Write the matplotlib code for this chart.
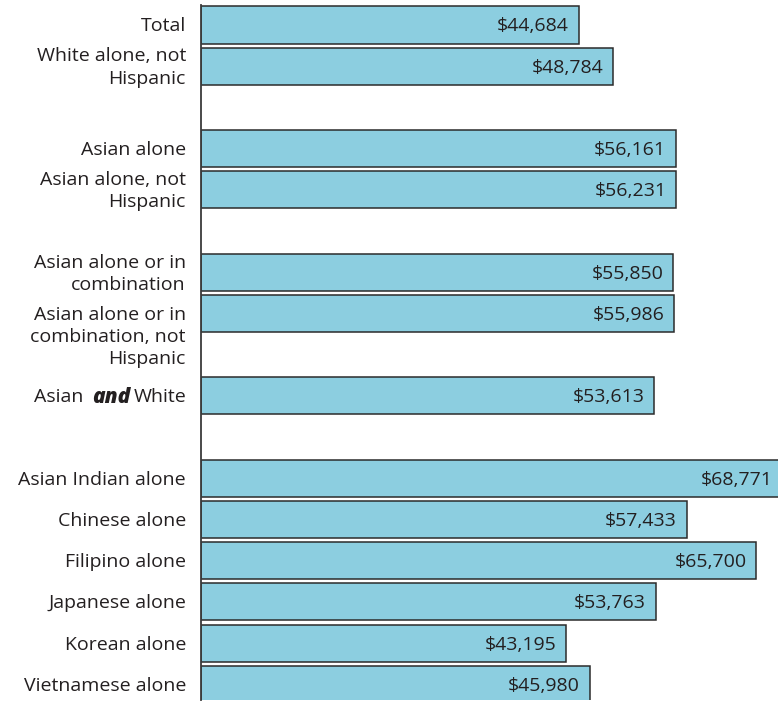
import matplotlib.pyplot as plt

plt.rcParams['font.family'] = ['Open Sans', 'DejaVu Sans']

labels = ["Total", "White alone, not\nHispanic",
          "Asian alone", "Asian alone, not\nHispanic",
          "Asian alone or in\ncombination", "Asian alone or in\ncombination, not\nHispanic",
          "Asian and White",
          "Asian Indian alone", "Chinese alone", "Filipino alone",
          "Japanese alone", "Korean alone", "Vietnamese alone"]
values = [44684, 48784, 56161, 56231, 55850, 55986, 53613,
          68771, 57433, 65700, 53763, 43195, 45980]
slots = [0, 1, 3, 4, 6, 7, 9, 11, 12, 13, 14, 15, 16]

TXT = "#231f20"
FS = 14
DY = -1
W, H = 778, 702
fig = plt.figure(figsize=(W / 100, H / 100), dpi=100)
ax = fig.add_axes([201 / W, 2 / H, 1 - 201 / W, 695 / H])

ax.barh(slots, values, height=0.9, color="#8ccee0", edgecolor="#2b2b2b",
        linewidth=1.1)
ax.set_xlim(0, 68250)
ax.set_ylim(16.38, -0.485)
for s in ["top", "right", "bottom"]:
    ax.spines[s].set_visible(False)
ax.spines["left"].set_color("#3a3a3a")
ax.spines["left"].set_linewidth(1.3)
ax.set_xticks([])
ax.set_yticks([])

for s, v in zip(slots, values):
    ax.annotate(f"${v:,}", xy=(v, s), xytext=(-7, DY), textcoords="offset points",
                ha="right", va="center", fontsize=FS, color=TXT,
                annotation_clip=False)

for s, lab in zip(slots, labels):
    if lab == "Asian and White":
        continue
    dy = -16 if lab.count("\n") == 2 else 0
    ax.annotate(lab, xy=(0, s), xycoords=("axes fraction", "data"),
                xytext=(-10.8, dy + DY), textcoords="offset points",
                ha="right", va="center", fontsize=FS, color=TXT,
                linespacing=1.3, multialignment="right")

# mixed-style label: "Asian and White" with bold italic "and"
fig.canvas.draw()
r = fig.canvas.get_renderer()
s9 = slots[labels.index("Asian and White")]
t3 = ax.annotate("White", xy=(0, s9), xycoords=("axes fraction", "data"),
                 xytext=(-10.8, DY), textcoords="offset points",
                 ha="right", va="center", fontsize=FS, color=TXT)
w3 = t3.get_window_extent(r).width
t2 = ax.annotate("and", xy=(0, s9), xycoords=("axes fraction", "data"),
                 xytext=(-10.8 - (w3 + 3) * 0.72, DY), textcoords="offset points",
                 ha="right", va="center", fontsize=FS + 1, color=TXT,
                 fontweight="heavy", fontstyle="italic")
w2 = t2.get_window_extent(r).width
ax.annotate("Asian", xy=(0, s9), xycoords=("axes fraction", "data"),
            xytext=(-10.8 - (w3 + w2 + 12) * 0.72, DY), textcoords="offset points",
            ha="right", va="center", fontsize=FS, color=TXT)

fig.savefig("out.png", dpi=100)
